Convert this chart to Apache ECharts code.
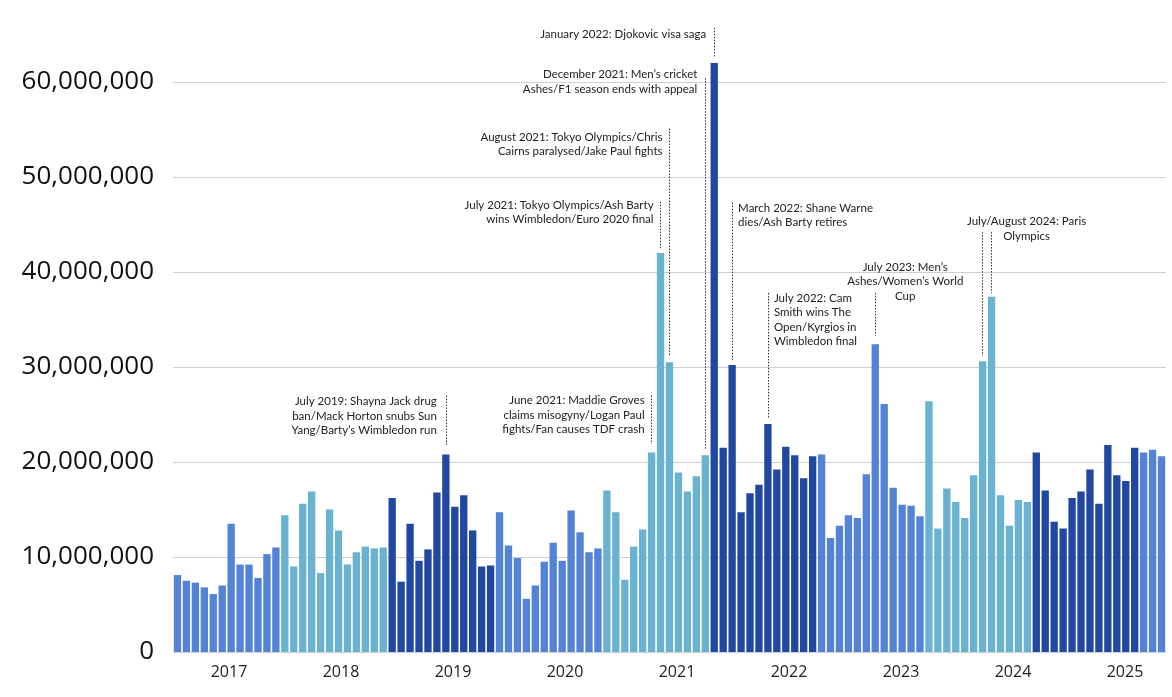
<!DOCTYPE html>
<html>
<head>
<meta charset="utf-8">
<script src="https://cdn.jsdelivr.net/npm/echarts@6/dist/echarts.min.js"></script>
<style>
  html, body { margin: 0; padding: 0; background: #fff; }
  #chart { width: 1172px; height: 697px; }
</style>
</head>
<body>
<div id="chart"></div>
<script>
// monthly totals, millions
const years = [2017, 2018, 2019, 2020, 2021, 2022, 2023, 2024, 2025, 2026];
const monthNames = ['Jan', 'Feb', 'Mar', 'Apr', 'May', 'Jun', 'Jul', 'Aug', 'Sep', 'Oct', 'Nov', 'Dec'];

const v2017 = [8.1, 7.5, 7.3, 6.8, 6.1, 7.0, 13.5, 9.2, 9.2, 7.8, 10.3, 11.0];
const v2018 = [14.4, 9.0, 15.6, 16.9, 8.3, 15.0, 12.8, 9.2, 10.5, 11.1, 10.9, 11.0];
const v2019 = [16.2, 7.4, 13.5, 9.6, 10.8, 16.8, 20.8, 15.3, 16.5, 12.8, 9.0, 9.1];
const v2020 = [14.7, 11.2, 9.9, 5.6, 7.0, 9.5, 11.5, 9.6, 14.9, 12.6, 10.5, 10.9];
const v2021 = [17.0, 14.7, 7.6, 11.1, 12.9, 21.0, 42.0, 30.5, 18.9, 16.9, 18.5, 20.7];
const v2022 = [62.0, 21.5, 30.2, 14.7, 16.7, 17.6, 24.0, 19.2, 21.6, 20.7, 18.3, 20.6];
const v2023 = [20.8, 12.0, 13.3, 14.4, 14.1, 18.7, 32.4, 26.1, 17.3, 15.5, 15.4, 14.3];
const v2024 = [26.4, 13.0, 17.2, 15.8, 14.1, 18.6, 30.6, 37.4, 16.5, 13.3, 16.0, 15.8];
const v2025 = [21.0, 17.0, 13.7, 13.0, 16.2, 16.9, 19.2, 15.6, 21.8, 18.6, 18.0, 21.5];
const v2026 = [21.0, 21.3, 20.6];

const yearLabels = ['2017', '2018', '2019', '2020', '2021', '2022', '2023', '2024', '2025'];

// annotations: month of the dotted line, line top / bottom (millions)
const notes = [
  { text: 'July 2019: Shayna Jack drug\nban/Mack Horton snubs Sun\nYang/Barty\u2019s Wimbledon run', top: 27.0, lines: [['Jul 2019', 21.8]], side: 'left', dx: -9, dy: -1 },
  { text: 'June 2021: Maddie Groves\nclaims misogyny/Logan Paul\nfights/Fan causes TDF crash', top: 27.0, lines: [['Jun 2021', 21.9]], side: 'left', dx: -7, dy: -2 },
  { text: 'July 2021: Tokyo Olympics/Ash Barty\nwins Wimbledon/Euro 2020 final', top: 47.4, lines: [['Jul 2021', 42.5]], side: 'left', dx: -7, dy: -4 },
  { text: 'August 2021: Tokyo Olympics/Chris\nCairns paralysed/Jake Paul fights', top: 55.1, lines: [['Aug 2021', 31.2]], side: 'left', dx: -7, dy: 1 },
  { text: 'December 2021: Men\u2019s cricket\nAshes/F1 season ends with appeal', top: 60.4, lines: [['Dec 2021', 21.3]], side: 'left', dx: -8, dy: -11 },
  { text: 'January 2022: Djokovic visa saga', top: 65.7, lines: [['Jan 2022', 62.6]], side: 'left', dx: -8, dy: -1 },
  { text: 'March 2022: Shane Warne\ndies/Ash Barty retires', top: 47.3, lines: [['Mar 2022', 30.7]], side: 'right', dx: 6, dy: -2 },
  { text: 'July 2022: Cam\nSmith wins The\nOpen/Kyrgios in\nWimbledon final', top: 37.8, lines: [['Jul 2022', 24.6]], side: 'right', dx: 6, dy: -2 },
  { text: 'July 2023: Men\u2019s\nAshes/Women\u2019s World\nCup', top: 37.8, lines: [['Jul 2023', 33.3]], side: 'center', dx: 30, dy: -33 },
  { text: 'July/August 2024: Paris\nOlympics', top: 44.2, lines: [['Jul 2024', 31.2], ['Aug 2024', 37.8]], side: 'center', dx: 44, dy: -18 }
];

const yearColors = ['#5283d6', '#69b3d1', '#2148a0'];

const perYear = [v2017, v2018, v2019, v2020, v2021, v2022, v2023, v2024, v2025, v2026];
const months = [];
const values = [];
const barColors = [];
perYear.forEach((arr, i) => {
  arr.forEach((v, m) => {
    months.push(monthNames[m] + ' ' + years[i]);
    values.push(v * 1e6);
    barColors.push(yearColors[i % 3]);
  });
});

const M = 1e6;

const lineData = [];
const pointData = [];
notes.forEach(n => {
  n.lines.forEach(([mon, bottom]) => {
    const idx = months.indexOf(mon);
    lineData.push([{ coord: [idx, n.top * M] }, { coord: [idx, bottom * M] }]);
  });
  const idx0 = months.indexOf(n.lines[0][0]);
  pointData.push({
    coord: [idx0, n.top * M],
    symbolSize: 0,
    label: {
      show: true,
      formatter: n.text,
      position: [n.dx, n.dy],
      align: n.side === 'left' ? 'right' : (n.side === 'right' ? 'left' : 'center'),
      verticalAlign: 'top'
    }
  });
});

const chart = echarts.init(document.getElementById('chart'));
chart.setOption({
  animation: false,
  backgroundColor: '#fff',
  grid: [
    { left: 173, right: 6, top: -13, bottom: 45, outerBoundsMode: 'none' },
    { left: 173, width: 1008, top: -13, bottom: 45, outerBoundsMode: 'none' }
  ],
  xAxis: [
    {
      type: 'category',
      data: months,
      gridIndex: 0,
      axisLine: { show: false },
      axisTick: { show: false },
      axisLabel: { show: false }
    },
    {
      type: 'category',
      data: yearLabels,
      gridIndex: 1,
      axisLine: { show: false },
      axisTick: { show: false },
      axisLabel: { fontFamily: 'Open Sans', fontSize: 16, color: '#222', margin: 12 }
    }
  ],
  yAxis: [
    {
      type: 'value',
      gridIndex: 0,
      min: 0,
      max: 70e6,
      interval: 10e6,
      axisLine: { show: false },
      axisTick: { show: false },
      splitLine: { lineStyle: { color: '#cfcfcf', width: 1.2 } },
      axisLabel: {
        fontFamily: 'Open Sans',
        fontSize: 26,
        color: '#111',
        margin: 19,
        formatter: v => v.toLocaleString('en-US')
      }
    },
    { type: 'value', gridIndex: 1, show: false }
  ],
  series: [
    {
      type: 'bar',
      data: values,
      barCategoryGap: '18%',
      itemStyle: { color: p => barColors[p.dataIndex] },
      markLine: {
        silent: true,
        symbol: ['none', 'none'],
        label: { show: false },
        lineStyle: { type: [1.5, 1.5], color: '#333', width: 1 },
        emphasis: { disabled: true },
        data: lineData
      },
      markPoint: {
        silent: true,
        symbol: 'circle',
        label: {
          fontFamily: 'Lato',
          fontSize: 11.5,
          lineHeight: 14.5,
          color: '#222'
        },
        data: pointData
      }
    }
  ]
});
</script>
</body>
</html>
